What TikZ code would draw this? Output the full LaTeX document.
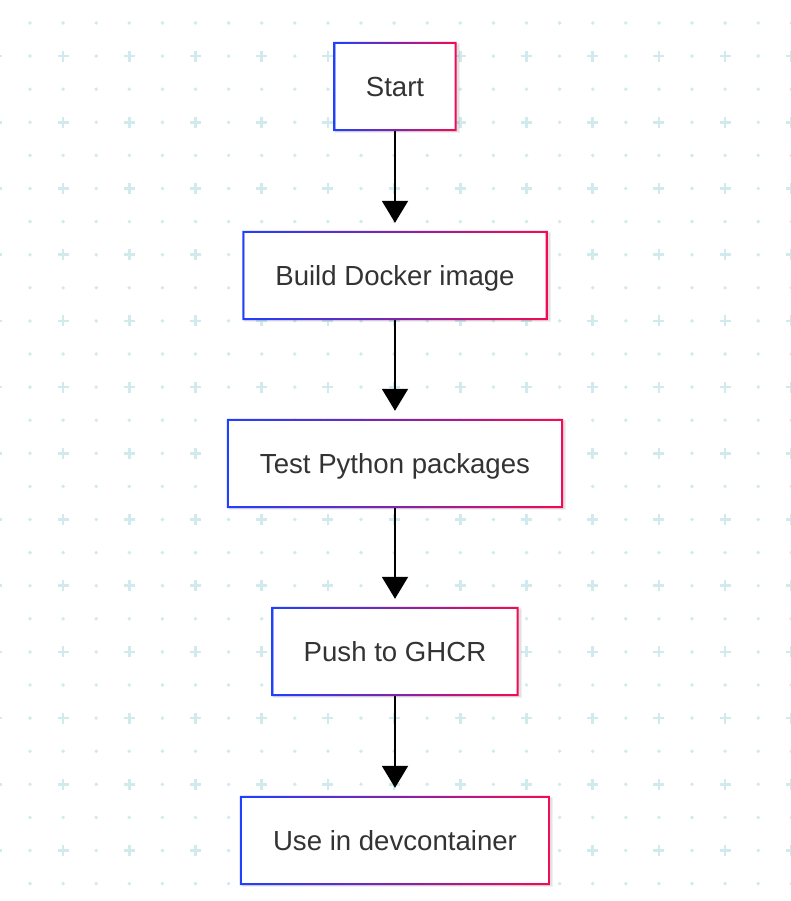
\documentclass[tikz,border=0pt]{standalone}
\usepackage{fontspec}
\setmainfont{Liberation Sans}
\usetikzlibrary{arrows.meta,backgrounds}
\definecolor{gblue}{RGB}{30,64,255}
\definecolor{gred}{RGB}{245,10,84}
\definecolor{gpurple}{RGB}{128,36,170}
\definecolor{txt}{RGB}{51,51,51}
\definecolor{dotc}{RGB}{208,234,238}
\newcommand\gframe[1]{%
  \shade[even odd rule, left color=gblue, right color=gred, middle color=gpurple]
    ([shift={(-2pt,-2pt)}]#1.south west) rectangle ([shift={(2pt,2pt)}]#1.north east)
    (#1.south west) rectangle (#1.north east);}
\newcommand\gshadow[1]{%
  \fill[black, opacity=0.06] ([shift={(0pt,-4pt)}]#1.south west) rectangle ([shift={(5pt,1pt)}]#1.north east);
  \fill[black, opacity=0.06] ([shift={(0pt,-3pt)}]#1.south west) rectangle ([shift={(4pt,0pt)}]#1.north east);}
\begin{document}
\begin{tikzpicture}[x=1pt,y=-1pt,
  stepbox/.style={fill=white, inner sep=0pt, minimum height=85pt, text=txt,
    font=\fontsize{27.6pt}{33pt}\selectfont, text height=24.98pt, text depth=5.85pt},
  flow/.style={line width=2pt, black, -{Triangle[width=26pt,length=22pt]}}]
\useasboundingbox (0,0) rectangle (791,901);

\node[stepbox, minimum width=119pt] (start) at (395,86.5) {Start};
\node[stepbox, minimum width=301pt] (build) at (395,275.5) {Build Docker image};
\node[stepbox, minimum width=332pt] (test)  at (395,463.5) {Test Python packages};
\node[stepbox, minimum width=243pt] (push)  at (395,651.5) {Push to GHCR};
\node[stepbox, minimum width=306pt] (use)   at (395,840.5) {Use in devcontainer};

\begin{scope}[on background layer]
  \fill[white] (0,0) rectangle (791,901);
  \clip (0,0) rectangle (791,901);
  \foreach \i in {-1,...,23}{\foreach \j in {0,...,26}{
    \pgfmathtruncatemacro\k{mod(\i+100,2)*mod(\j,2)}
    \pgfmathsetmacro\xx{30+33.1*\i}
    \pgfmathsetmacro\yy{23+33.1*\j}
    \ifnum\k=1
      \fill[dotc] (\xx-5.5,\yy-1.3) rectangle (\xx+5.5,\yy+1.3);
      \fill[dotc] (\xx-1.3,\yy-5.5) rectangle (\xx+1.3,\yy+5.5);
    \else
      \fill[dotc] (\xx,\yy) circle (1.9pt);
    \fi
  }}
  \gshadow{start}\gshadow{build}\gshadow{test}\gshadow{push}\gshadow{use}
\end{scope}

\draw[flow] ([yshift=-2pt]start.south) -- ([yshift=10pt]build.north);
\draw[flow] ([yshift=-2pt]build.south) -- ([yshift=10pt]test.north);
\draw[flow] ([yshift=-2pt]test.south) -- ([yshift=10pt]push.north);
\draw[flow] ([yshift=-2pt]push.south) -- ([yshift=10pt]use.north);

\gframe{start}\gframe{build}\gframe{test}\gframe{push}\gframe{use}
\end{tikzpicture}
\end{document}
